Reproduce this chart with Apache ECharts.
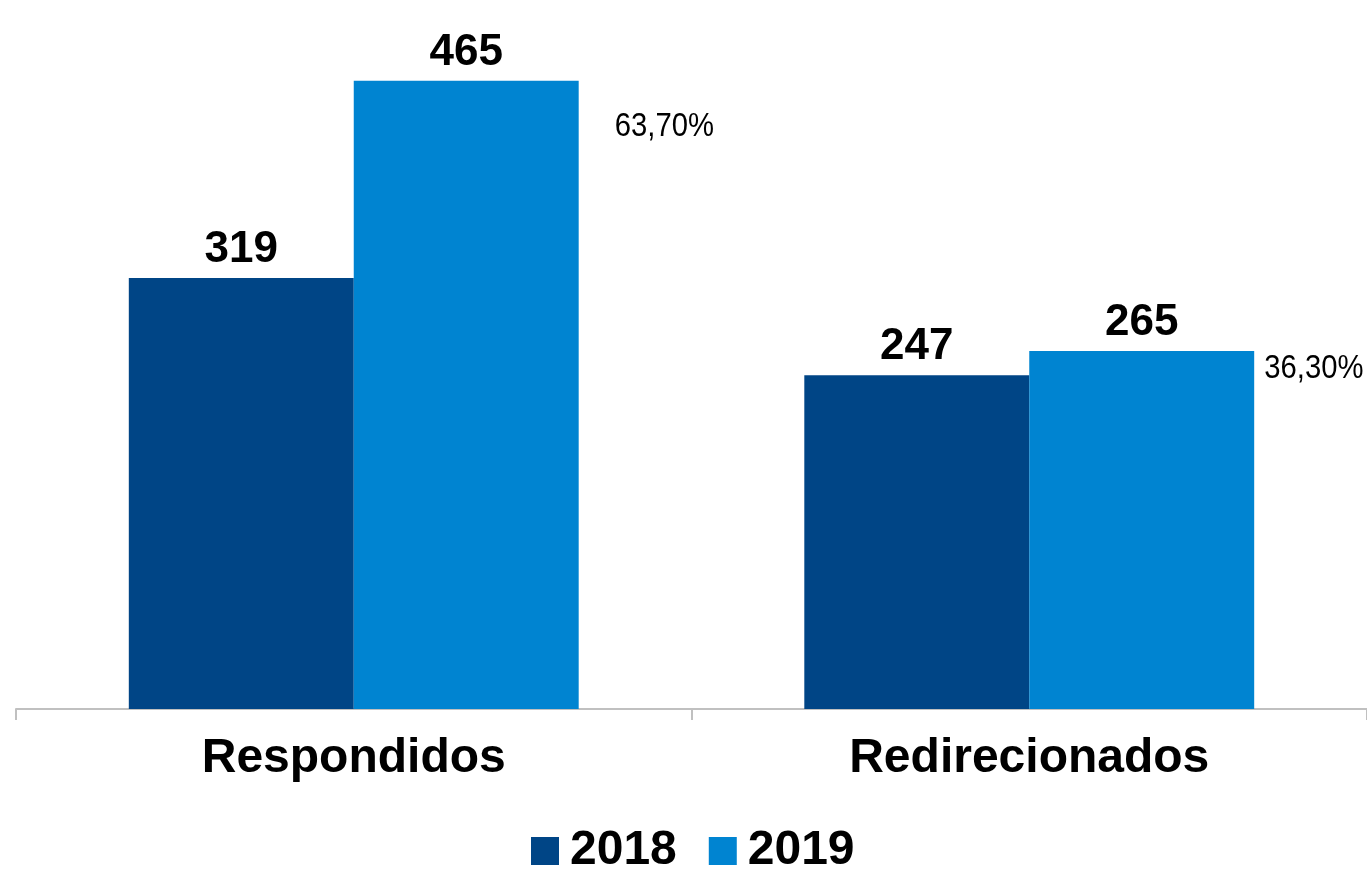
<!DOCTYPE html>
<html>
<head>
<meta charset="utf-8">
<script src="https://cdn.jsdelivr.net/npm/echarts@6/dist/echarts.min.js"></script>
<style>html,body{margin:0;padding:0;background:#fff}#c{width:1367px;height:869px}</style>
</head>
<body>
<div id="c"></div>
<script>
const categories = ['Respondidos', 'Redirecionados'];
const seriesNames = ['2018', '2019'];
const values2018 = [319, 247];
const values2019 = [465, 265];
const shares2019 = ['63,70%', '36,30%'];

const shareOffsets = [[261, 46], [235, 18]];
const chart = echarts.init(document.getElementById('c'));
const font = '"Liberation Sans", Arial, sans-serif';
const valueLabel = {show: true, position: 'top', distance: 6, color: '#000', fontFamily: font, fontWeight: 'bold', fontSize: 44};

chart.setOption({
  animation: false,
  textStyle: {fontFamily: font},
  grid: {left: 16, right: -3, top: 33.5, bottom: 160},
  legend: {
    top: 822, left: 526, itemWidth: 28, itemHeight: 28, itemGap: 32,
    textStyle: {fontSize: 48, fontWeight: 'bold', color: '#000', fontFamily: font, padding: [0, 0, 0, 6]},
    data: seriesNames.map(n => ({name: n, icon: 'rect'}))
  },
  xAxis: {
    type: 'category', data: categories,
    axisLine: {lineStyle: {color: '#c0c0c0', width: 2}},
    axisTick: {show: true, length: 11, lineStyle: {color: '#c0c0c0', width: 2}},
    axisLabel: {fontSize: 48, fontWeight: 'bold', color: '#000', fontFamily: font, margin: 26}
  },
  yAxis: {type: 'value', min: 0, max: 500, show: false, splitLine: {show: false}},
  series: [
    {name: seriesNames[0], type: 'bar', data: values2018, barGap: '0%', barCategoryGap: '33.4%',
     itemStyle: {color: '#004586'}, label: valueLabel},
    {name: seriesNames[1], type: 'bar', data: values2019, barGap: '0%', barCategoryGap: '33.4%',
     itemStyle: {color: '#0084d1'}, label: valueLabel}
  ]
});

// Percentage annotations anchored to each category / 2019 value (via the chart's own scales)
chart.setOption({
  graphic: categories.map((c, i) => {
    const p = chart.convertToPixel({seriesIndex: 1}, [c, values2019[i]]);
    return {
      type: 'text', z: 100, x: p[0] + shareOffsets[i][0], y: p[1] + shareOffsets[i][1],
      scaleX: 0.86,
      style: {text: shares2019[i], fill: '#000', fontSize: 34, fontFamily: font, verticalAlign: 'middle', align: 'left'}
    };
  })
});
</script>
</body>
</html>
